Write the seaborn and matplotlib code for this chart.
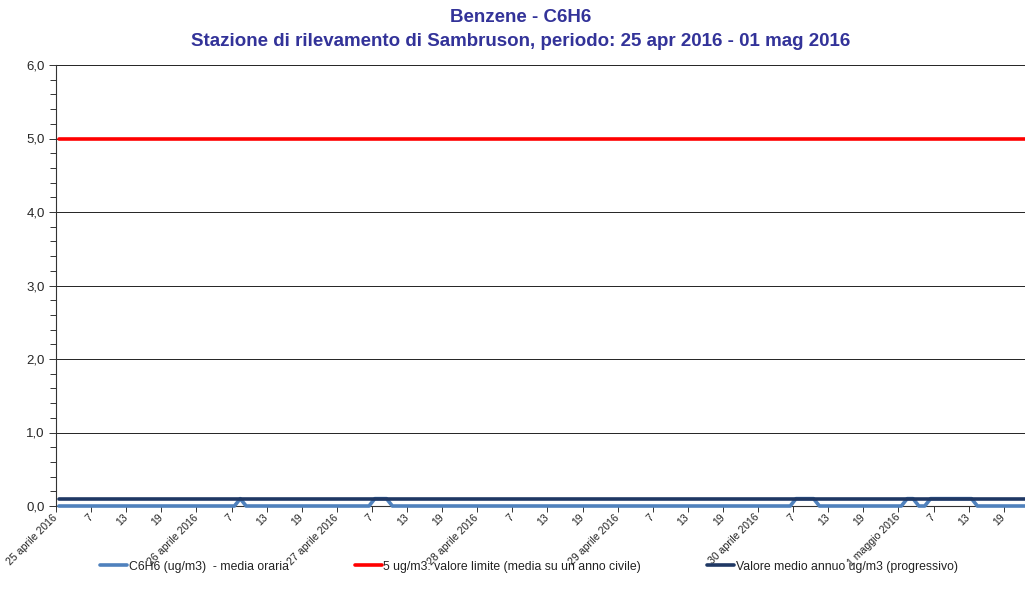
import numpy as np
import pandas as pd
import matplotlib
matplotlib.use("Agg")
import matplotlib.pyplot as plt
import seaborn as sns
from matplotlib.ticker import MultipleLocator, FixedLocator, FuncFormatter

# hourly C6H6 values (ug/m3), one list per day, hours 1..24
day_25 = [0.0] * 24
day_26 = [0.0] * 7 + [0.1] + [0.0] * 16
day_27 = [0.0] * 6 + [0.1, 0.1, 0.1] + [0.0] * 15
day_28 = [0.0] * 24
day_29 = [0.0] * 24
day_30 = [0.0] * 6 + [0.1, 0.1, 0.1, 0.1] + [0.0] * 14
day_01 = [0.0, 0.1, 0.1, 0.0, 0.0] + [0.1] * 8 + [0.0] * 11

limit_value = 5.0
annual_mean = 0.1

day_labels = ["25 aprile 2016", "26 aprile 2016", "27 aprile 2016", "28 aprile 2016",
              "29 aprile 2016", "30 aprile 2016", "1 maggio 2016"]
hour_labels = ["7", "13", "19"]

series_names = ["C6H6 (ug/m3)  - media oraria",
                "5 ug/m3: valore limite (media su un anno civile)",
                "Valore medio annuo ug/m3 (progressivo)"]
colors = ["#4F81BD", "#FF0000", "#1F3864"]

hourly = day_25 + day_26 + day_27 + day_28 + day_29 + day_30 + day_01
n = len(hourly)

df = pd.DataFrame({
    "pos": np.arange(n) + 0.5,
    series_names[0]: hourly,
    series_names[1]: [limit_value] * n,
    series_names[2]: [annual_mean] * n,
})
long_df = df.melt(id_vars="pos", var_name="serie", value_name="valore")

sns.set_style("white")
plt.rcParams["font.family"] = ["Liberation Sans", "DejaVu Sans"]

fig = plt.figure(figsize=(10.25, 6.01), dpi=100)
ax = fig.add_axes([56 / 1025, 1 - 506 / 601, 1 - 56 / 1025, (506 - 65) / 601])

sns.lineplot(data=long_df, x="pos", y="valore", hue="serie", hue_order=series_names,
             palette=colors, linewidth=2.6, ax=ax, legend=True, zorder=3,
             estimator=None, sort=False)
for line in ax.lines:
    line.set_clip_on(False)

ax.set_xlim(0, (1025 - 56) / 5.85)
ax.set_ylim(0, 6)
ax.yaxis.set_major_locator(MultipleLocator(1))
ax.yaxis.set_minor_locator(MultipleLocator(0.2))
ax.yaxis.set_major_formatter(FuncFormatter(lambda v, p: f"{v:.1f}".replace(".", ",")))
ax.grid(axis="y", which="major", color="#000000", linewidth=0.6, zorder=1)
ax.set_axisbelow(True)

tick_pos = list(range(0, n, 6))
tick_text = []
for d in day_labels:
    tick_text += [d] + hour_labels
ax.xaxis.set_major_locator(FixedLocator(tick_pos))
ax.set_xticklabels(tick_text[:len(tick_pos)], rotation=45, ha="right", va="center",
                   rotation_mode="anchor", fontsize=7.6, color="#222222")
ax.tick_params(axis="x", which="major", direction="out", length=4, width=0.7,
               color="#333333", bottom=True, pad=3)
ax.tick_params(axis="y", which="major", direction="out", length=5, width=0.7,
               color="#333333", left=True, labelsize=9.5, pad=3)
ax.tick_params(axis="y", which="minor", direction="out", length=4, width=0.7,
               color="#333333", left=True)
ax.set_xlabel("")
ax.set_ylabel("")

for s in ["top", "right"]:
    ax.spines[s].set_visible(False)
for s in ["left", "bottom"]:
    ax.spines[s].set_color("#333333")
    ax.spines[s].set_linewidth(0.8)

ax.get_legend().remove()
handles, labels = ax.get_legend_handles_labels()
fig.legend(handles, labels, loc="center", bbox_to_anchor=(0.516, 0.057), ncol=3,
           frameon=False, fontsize=8.8, handlelength=2.2, handletextpad=0.15,
           columnspacing=5.4, labelcolor="#222222")

title_color = "#333399"
fig.text(0.508, 1 - 18 / 601, "Benzene - C6H6", ha="center", va="center",
         fontsize=13.5, fontweight="bold", color=title_color)
fig.text(0.508, 1 - 42 / 601, "Stazione di rilevamento di Sambruson, periodo: 25 apr 2016 - 01 mag 2016",
         ha="center", va="center", fontsize=13.5, fontweight="bold", color=title_color)

fig.savefig("out.png", dpi=100)
